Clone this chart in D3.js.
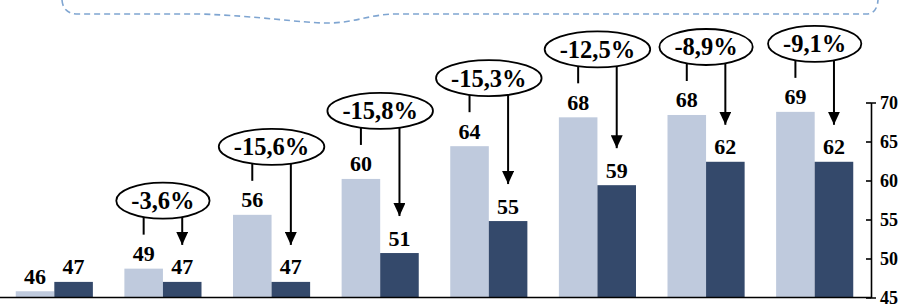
<!DOCTYPE html>
<html>
<head>
<meta charset="utf-8">
<script src="https://cdn.jsdelivr.net/npm/d3@7"></script>
<style>
  body { margin: 0; background: #fff; }
  svg { display: block; }
</style>
</head>
<body>
<div id="chart"></div>
<script>
// data
var groups = ["1", "2", "3", "4", "5", "6", "7", "8"];
var lightValues = [45.8, 48.7, 55.6, 60.2, 64.4, 68.1, 68.4, 68.8];
var darkValues = [47.0, 47.0, 47.0, 50.7, 54.8, 59.4, 62.4, 62.4];
var changes = [null, "-3,6%", "-15,6%", "-15,8%", "-15,3%", "-12,5%", "-8,9%", "-9,1%"];
var yTicks = [45, 50, 55, 60, 65, 70];

var width = 908, height = 306;
var font = "'Liberation Serif', 'Times New Roman', serif";
var lightColor = "#bfcadd", darkColor = "#34496b";

var svg = d3.select("#chart").append("svg")
  .attr("width", width).attr("height", height);

var x = d3.scaleBand()
  .domain(groups)
  .range([0, 869])
  .paddingInner(0.29)
  .paddingOuter(0.145);

var y = d3.scaleLinear()
  .domain([45, 70])
  .range([297.5, 102.5]);

var bw = x.bandwidth() / 2;

// dashed callout at the top
var p = d3.path();
p.moveTo(62, 0);
p.quadraticCurveTo(63, 14, 78, 14);
p.lineTo(200, 14);
p.bezierCurveTo(260, 16, 300, 23, 328, 23);
p.bezierCurveTo(355, 23, 370, 14, 397, 14);
p.lineTo(866, 14);
p.quadraticCurveTo(877, 14, 878, 0);
svg.append("path")
  .attr("d", p.toString())
  .attr("fill", "none")
  .attr("stroke", "#7fa5d1")
  .attr("stroke-width", 1.6)
  .attr("stroke-dasharray", "6,4");

// bars
var g = svg.selectAll("g.grp")
  .data(groups)
  .join("g")
  .attr("class", "grp");

g.append("rect")
  .attr("x", d => x(d))
  .attr("y", (d, i) => y(lightValues[i]))
  .attr("width", bw)
  .attr("height", (d, i) => y(45) - y(lightValues[i]))
  .attr("fill", lightColor);

g.append("rect")
  .attr("x", d => x(d) + bw)
  .attr("y", (d, i) => y(darkValues[i]))
  .attr("width", bw)
  .attr("height", (d, i) => y(45) - y(darkValues[i]))
  .attr("fill", darkColor);

// value labels
var fmt = d3.format(".0f");
g.append("text")
  .attr("x", d => x(d) + bw / 2)
  .attr("y", (d, i) => y(lightValues[i]) - 7.5)
  .attr("text-anchor", "middle")
  .attr("font-family", font).attr("font-weight", "bold").attr("font-size", 22)
  .text((d, i) => fmt(lightValues[i]));

g.append("text")
  .attr("x", d => x(d) + bw * 1.5)
  .attr("y", (d, i) => y(darkValues[i]) - 7.5)
  .attr("text-anchor", "middle")
  .attr("font-family", font).attr("font-weight", "bold").attr("font-size", 22)
  .text((d, i) => fmt(darkValues[i]));

// change callouts
svg.append("defs").append("marker")
  .attr("id", "arrow")
  .attr("viewBox", "0 0 13 12")
  .attr("refX", 13).attr("refY", 6)
  .attr("markerWidth", 13).attr("markerHeight", 12)
  .attr("markerUnits", "userSpaceOnUse")
  .attr("orient", "auto")
  .append("path")
  .attr("d", "M0,0L13,6L0,12Z")
  .attr("fill", "#000");

groups.forEach(function(d, i) {
  if (!changes[i]) return;
  var cx = x(d) + bw;
  var yl = y(lightValues[i]), yd = y(darkValues[i]);
  var cy = yl - 68, ry = 18;

  var call = svg.append("g");
  var ell = call.append("ellipse");
  var t = call.append("text")
    .attr("x", cx).attr("y", cy + 8.5)
    .attr("text-anchor", "middle")
    .attr("font-family", font).attr("font-weight", "bold").attr("font-size", 24.5)
    .text(changes[i]);
  var rx = t.node().getComputedTextLength() / 2 + 15;

  ell.attr("cx", cx).attr("cy", cy)
    .attr("rx", rx).attr("ry", ry)
    .attr("fill", "#fff")
    .attr("stroke", "#000").attr("stroke-width", 1.8);

  var lx = x(d) + bw / 2, ax = x(d) + bw * 1.5;
  var bottom = function(px) {
    var k = (px - cx) / rx;
    return cy + ry * Math.sqrt(Math.max(0, 1 - k * k));
  };

  call.append("line")
    .attr("x1", lx).attr("x2", lx)
    .attr("y1", bottom(lx)).attr("y2", yl - 34)
    .attr("stroke", "#000").attr("stroke-width", 2);

  call.append("line")
    .attr("x1", ax).attr("x2", ax)
    .attr("y1", bottom(ax)).attr("y2", yd - 37)
    .attr("stroke", "#000").attr("stroke-width", 2)
    .attr("marker-end", "url(#arrow)");
});

// baseline
svg.append("line")
  .attr("x1", 0).attr("x2", 871)
  .attr("y1", y(45)).attr("y2", y(45))
  .attr("stroke", "#000").attr("stroke-width", 1.6);

// right axis
var yAxis = svg.append("g")
  .attr("transform", "translate(871,0)")
  .call(d3.axisRight(y).tickValues(yTicks).tickSizeInner(-5).tickSizeOuter(5).tickPadding(9));

yAxis.select(".domain").attr("stroke-width", 1.6);
yAxis.selectAll(".tick line").attr("stroke-width", 1.6);
yAxis.selectAll("text")
  .attr("font-family", font).attr("font-weight", "bold").attr("font-size", 18)
  .attr("fill", "#000");
</script>
</body>
</html>
